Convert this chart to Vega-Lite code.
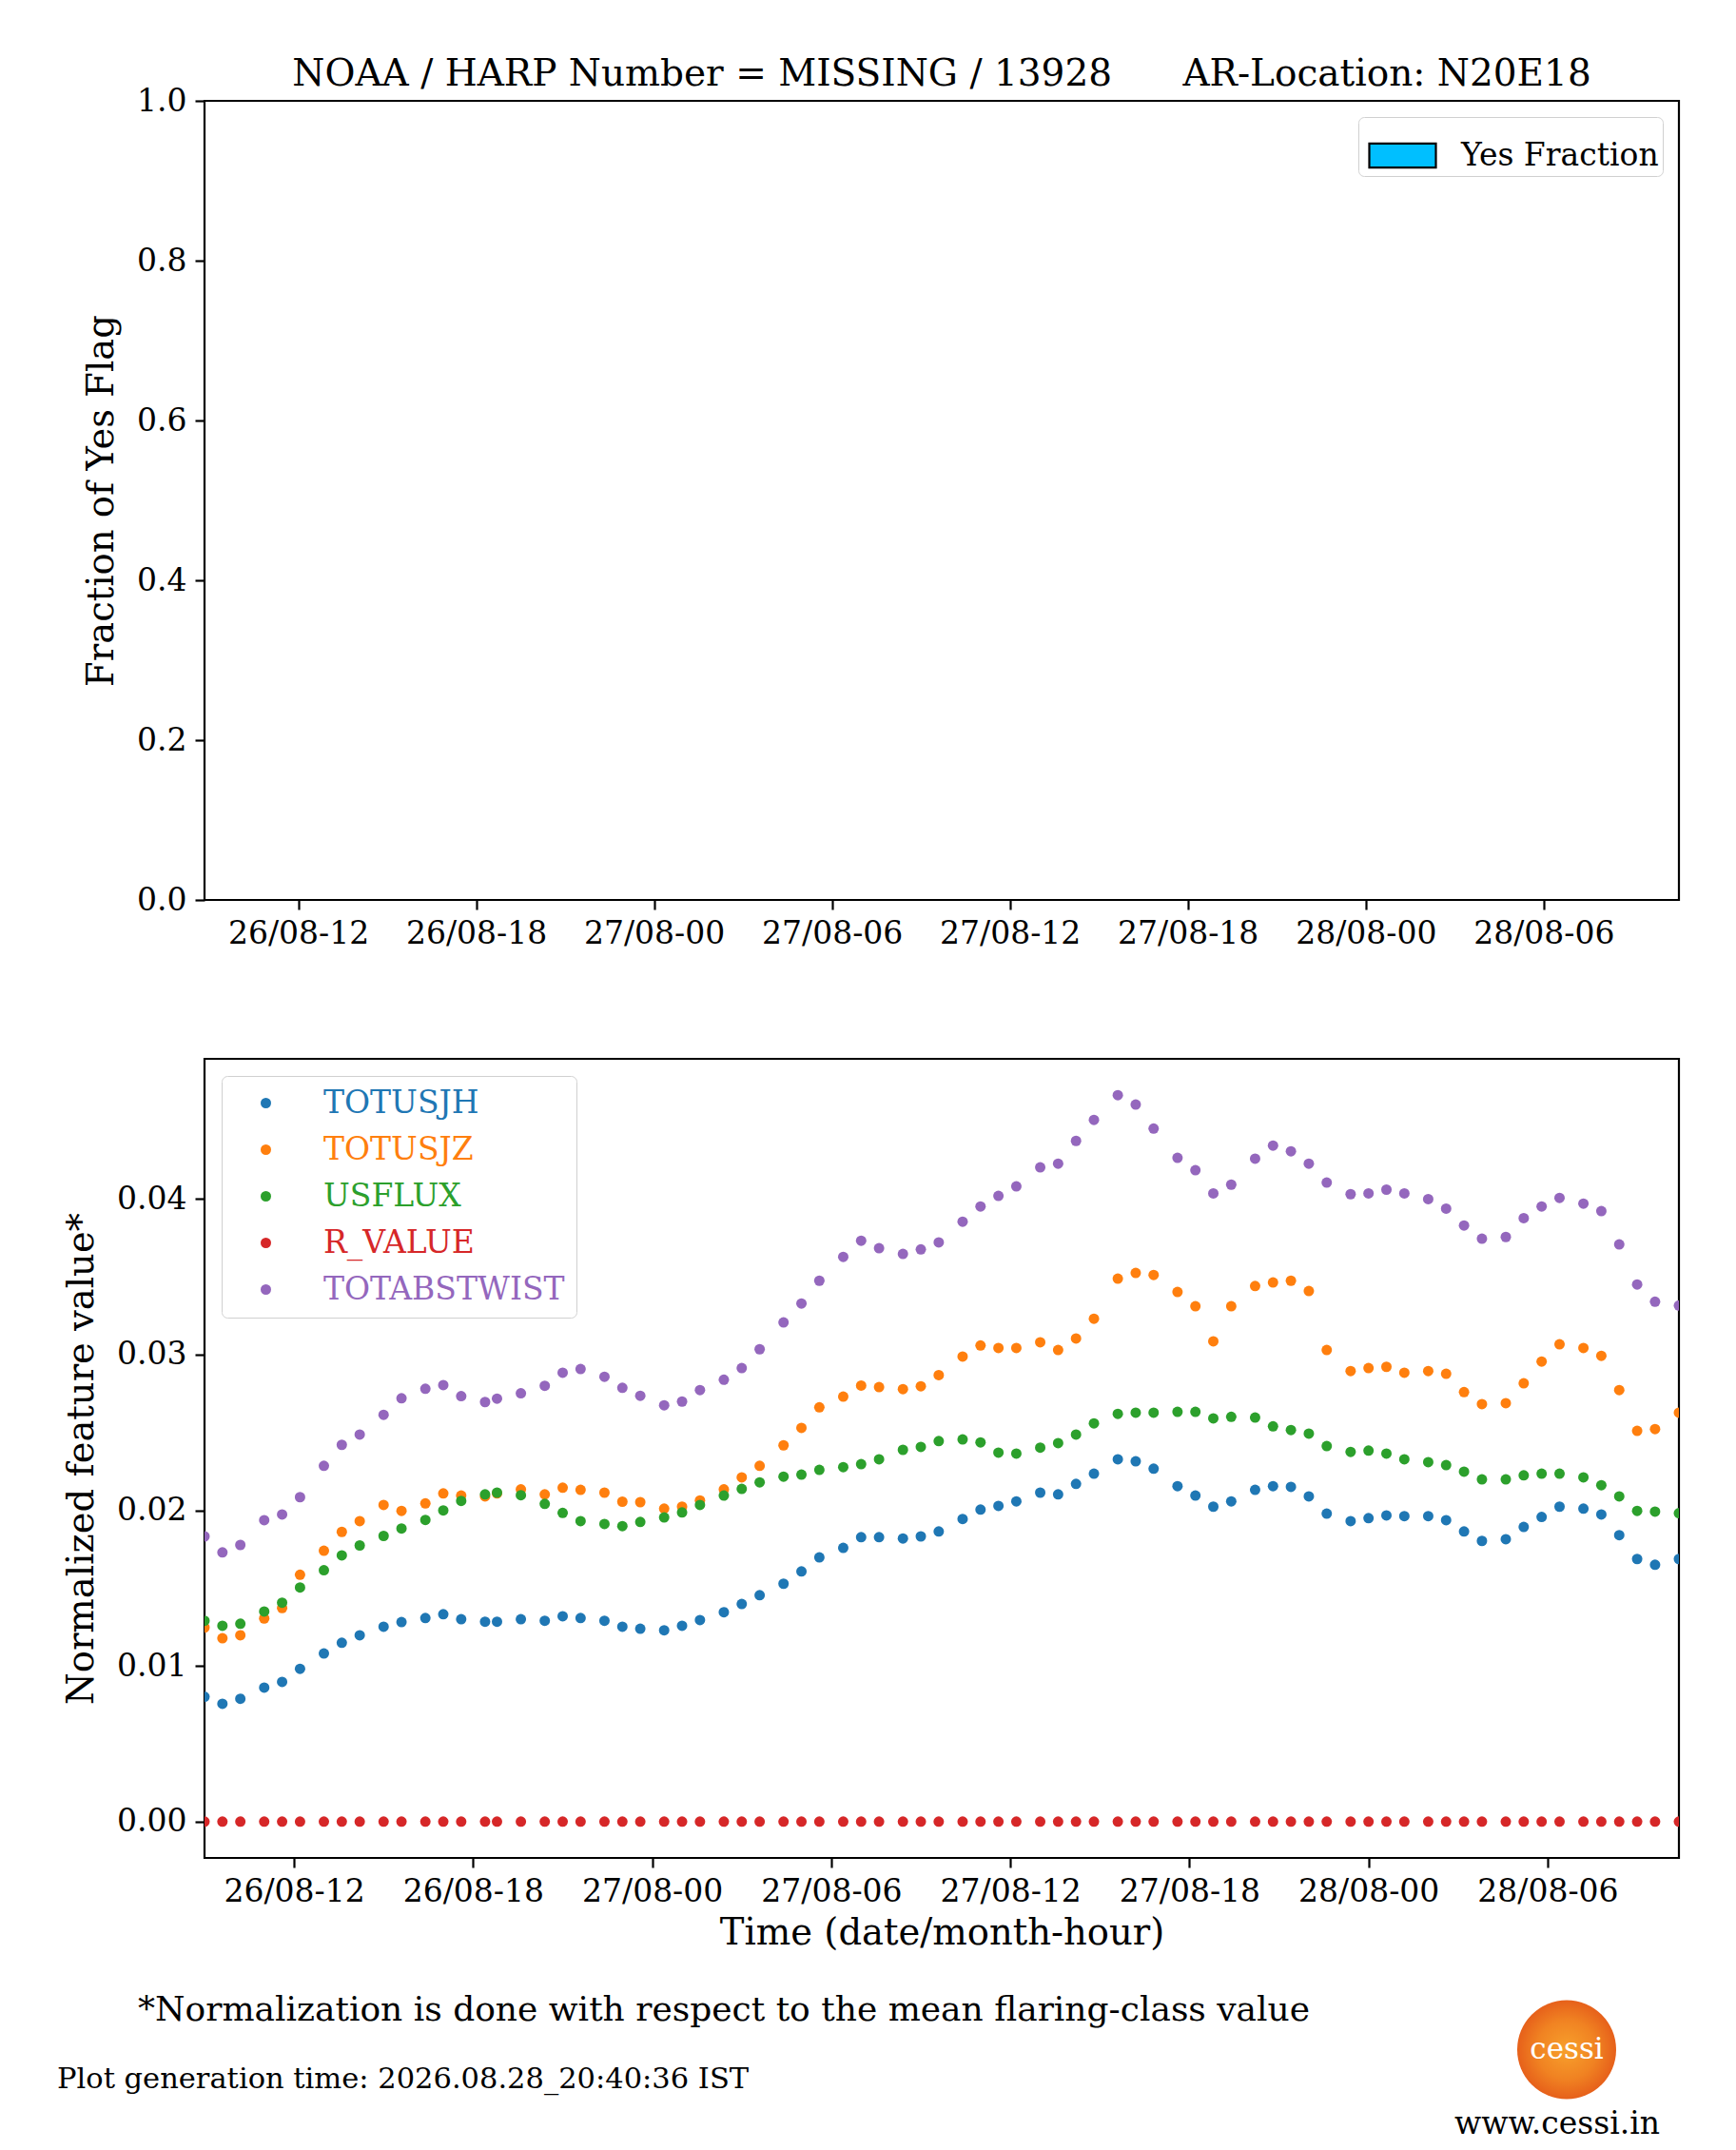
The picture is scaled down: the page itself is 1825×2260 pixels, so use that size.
{
"$schema": "https://vega.github.io/schema/vega-lite/v6.json",
"background": "white",
"padding": {"left": 60, "top": 57, "right": 60, "bottom": 0},
"config": {
  "font": "DejaVu Serif",
  "view": {"stroke": "black", "strokeWidth": 2.2},
  "axis": {"domain": false, "grid": false, "ticks": true, "tickColor": "black", "tickWidth": 2.2, "tickSize": 10, "labelFont": "DejaVu Serif", "labelFontSize": 33, "labelColor": "black", "labelPadding": 9, "labelFlush": false, "labelOverlap": false, "titleFont": "DejaVu Serif", "titleFontSize": 38.5, "titleFontWeight": "normal", "titleColor": "black"},
  "title": {"font": "DejaVu Serif", "fontWeight": "normal", "color": "black"},
  "legend": {"labelFont": "DejaVu Serif", "labelFontSize": 33, "labelLimit": 0}
},
"bounds": "flush",
"spacing": 167,
"resolve": {"scale": {"color": "independent", "fill": "independent"}, "legend": {"color": "independent", "fill": "independent"}},
"vconcat": [
{
 "width": 1550, "height": 840,
 "title": {"text": "NOAA / HARP Number = MISSING / 13928\u00a0\u00a0\u00a0\u00a0\u00a0\u00a0AR-Location: N20E18", "fontSize": 39, "offset": -8, "anchor": "middle"},
 "data": {"values": []},
 "mark": {"type": "bar", "stroke": "black", "strokeWidth": 2.2},
 "encoding": {
   "x": {"field": "t", "type": "temporal", "scale": {"domain": [{"year":2026,"month":8,"date":26,"hours":9},{"year":2026,"month":8,"date":28,"hours":10,"minutes":24}], "nice": false},
         "axis": {"title": null, "format": "%d/%m-%H", "values": [{"year":2026,"month":8,"date":26,"hours":12},{"year":2026,"month":8,"date":26,"hours":18},{"year":2026,"month":8,"date":27,"hours":0},{"year":2026,"month":8,"date":27,"hours":6},{"year":2026,"month":8,"date":27,"hours":12},{"year":2026,"month":8,"date":27,"hours":18},{"year":2026,"month":8,"date":28,"hours":0},{"year":2026,"month":8,"date":28,"hours":6}]}},
   "y": {"field": "yes_fraction", "type": "quantitative", "scale": {"domain": [0, 1], "nice": false}, "axis": {"title": "Fraction of Yes Flag", "values": [0, 0.2, 0.4, 0.6, 0.8, 1], "format": ".1f", "titlePadding": 17}},
   "fill": {"field": "label", "type": "nominal", "scale": {"domain": ["Yes Fraction"], "range": ["#00bfff"]},
            "legend": {"title": null, "orient": "top-right", "offset": 17, "symbolType": "M-1,-0.36L1,-0.36L1,0.36L-1,0.36Z", "symbolSize": 4900, "symbolStrokeColor": "black", "symbolStrokeWidth": 2.2, "symbolOpacity": 1, "symbolOffset": 6, "labelOffset": 25, "labelFontSize": 33, "labelColor": "black", "labelExpr": "datum.label + '\u00a0\u00a0'", "padding": 4, "strokeColor": "#d0d0d0", "cornerRadius": 6, "fillColor": "white"}}
 }
},
{
 "width": 1550, "height": 840,
 "title": {"text": "*Normalization is done with respect to the mean flaring-class value", "orient": "bottom", "anchor": "start", "frame": "group", "dx": -70, "offset": 45, "fontSize": 36},
 "data": {"values": [
  {"t":"2026-08-26T09:00","TOTUSJH":0.00802,"TOTUSJZ":0.01247,"USFLUX":0.0129,"R_VALUE":0,"TOTABSTWIST":0.01832},
  {"t":"2026-08-26T09:36","TOTUSJH":0.00757,"TOTUSJZ":0.01178,"USFLUX":0.01258,"R_VALUE":0,"TOTABSTWIST":0.01729},
  {"t":"2026-08-26T10:12","TOTUSJH":0.00789,"TOTUSJZ":0.01197,"USFLUX":0.01271,"R_VALUE":0,"TOTABSTWIST":0.01777},
  {"t":"2026-08-26T11:00","TOTUSJH":0.00861,"TOTUSJZ":0.01305,"USFLUX":0.0135,"R_VALUE":0,"TOTABSTWIST":0.01936},
  {"t":"2026-08-26T11:36","TOTUSJH":0.00898,"TOTUSJZ":0.01372,"USFLUX":0.01406,"R_VALUE":0,"TOTABSTWIST":0.01973},
  {"t":"2026-08-26T12:12","TOTUSJH":0.00982,"TOTUSJZ":0.01586,"USFLUX":0.01504,"R_VALUE":0,"TOTABSTWIST":0.02084},
  {"t":"2026-08-26T13:00","TOTUSJH":0.0108,"TOTUSJZ":0.0174,"USFLUX":0.01615,"R_VALUE":0,"TOTABSTWIST":0.02285},
  {"t":"2026-08-26T13:36","TOTUSJH":0.01149,"TOTUSJZ":0.01861,"USFLUX":0.0171,"R_VALUE":0,"TOTABSTWIST":0.0242},
  {"t":"2026-08-26T14:12","TOTUSJH":0.01197,"TOTUSJZ":0.0193,"USFLUX":0.01774,"R_VALUE":0,"TOTABSTWIST":0.02486},
  {"t":"2026-08-26T15:00","TOTUSJH":0.01252,"TOTUSJZ":0.02034,"USFLUX":0.01835,"R_VALUE":0,"TOTABSTWIST":0.02613},
  {"t":"2026-08-26T15:36","TOTUSJH":0.01282,"TOTUSJZ":0.01996,"USFLUX":0.01883,"R_VALUE":0,"TOTABSTWIST":0.02719},
  {"t":"2026-08-26T16:24","TOTUSJH":0.01308,"TOTUSJZ":0.02044,"USFLUX":0.01938,"R_VALUE":0,"TOTABSTWIST":0.0278},
  {"t":"2026-08-26T17:00","TOTUSJH":0.01332,"TOTUSJZ":0.02108,"USFLUX":0.01999,"R_VALUE":0,"TOTABSTWIST":0.02804},
  {"t":"2026-08-26T17:36","TOTUSJH":0.0130,"TOTUSJZ":0.02094,"USFLUX":0.0206,"R_VALUE":0,"TOTABSTWIST":0.02733},
  {"t":"2026-08-26T18:24","TOTUSJH":0.01284,"TOTUSJZ":0.02089,"USFLUX":0.02102,"R_VALUE":0,"TOTABSTWIST":0.02695},
  {"t":"2026-08-26T18:48","TOTUSJH":0.01284,"TOTUSJZ":0.02108,"USFLUX":0.02113,"R_VALUE":0,"TOTABSTWIST":0.02717},
  {"t":"2026-08-26T19:36","TOTUSJH":0.0130,"TOTUSJZ":0.02134,"USFLUX":0.02097,"R_VALUE":0,"TOTABSTWIST":0.02751},
  {"t":"2026-08-26T20:24","TOTUSJH":0.0129,"TOTUSJZ":0.02102,"USFLUX":0.02041,"R_VALUE":0,"TOTABSTWIST":0.02799},
  {"t":"2026-08-26T21:00","TOTUSJH":0.01319,"TOTUSJZ":0.02145,"USFLUX":0.01983,"R_VALUE":0,"TOTABSTWIST":0.02883},
  {"t":"2026-08-26T21:36","TOTUSJH":0.01308,"TOTUSJZ":0.02131,"USFLUX":0.0193,"R_VALUE":0,"TOTABSTWIST":0.02907},
  {"t":"2026-08-26T22:24","TOTUSJH":0.0129,"TOTUSJZ":0.02113,"USFLUX":0.01912,"R_VALUE":0,"TOTABSTWIST":0.02857},
  {"t":"2026-08-26T23:00","TOTUSJH":0.01252,"TOTUSJZ":0.02055,"USFLUX":0.01898,"R_VALUE":0,"TOTABSTWIST":0.02786},
  {"t":"2026-08-26T23:36","TOTUSJH":0.01239,"TOTUSJZ":0.02052,"USFLUX":0.01925,"R_VALUE":0,"TOTABSTWIST":0.02735},
  {"t":"2026-08-27T00:24","TOTUSJH":0.01229,"TOTUSJZ":0.0201,"USFLUX":0.01954,"R_VALUE":0,"TOTABSTWIST":0.02674},
  {"t":"2026-08-27T01:00","TOTUSJH":0.01258,"TOTUSJZ":0.02023,"USFLUX":0.01986,"R_VALUE":0,"TOTABSTWIST":0.02698},
  {"t":"2026-08-27T01:36","TOTUSJH":0.01295,"TOTUSJZ":0.02063,"USFLUX":0.02034,"R_VALUE":0,"TOTABSTWIST":0.02772},
  {"t":"2026-08-27T02:24","TOTUSJH":0.01345,"TOTUSJZ":0.02134,"USFLUX":0.02094,"R_VALUE":0,"TOTABSTWIST":0.02838},
  {"t":"2026-08-27T03:00","TOTUSJH":0.01398,"TOTUSJZ":0.02211,"USFLUX":0.02137,"R_VALUE":0,"TOTABSTWIST":0.02913},
  {"t":"2026-08-27T03:36","TOTUSJH":0.01454,"TOTUSJZ":0.02285,"USFLUX":0.02179,"R_VALUE":0,"TOTABSTWIST":0.03034},
  {"t":"2026-08-27T04:24","TOTUSJH":0.01528,"TOTUSJZ":0.02417,"USFLUX":0.02216,"R_VALUE":0,"TOTABSTWIST":0.03206},
  {"t":"2026-08-27T05:00","TOTUSJH":0.01607,"TOTUSJZ":0.02529,"USFLUX":0.02229,"R_VALUE":0,"TOTABSTWIST":0.03328},
  {"t":"2026-08-27T05:36","TOTUSJH":0.01697,"TOTUSJZ":0.02661,"USFLUX":0.02259,"R_VALUE":0,"TOTABSTWIST":0.03474},
  {"t":"2026-08-27T06:24","TOTUSJH":0.01758,"TOTUSJZ":0.0273,"USFLUX":0.02277,"R_VALUE":0,"TOTABSTWIST":0.03627},
  {"t":"2026-08-27T07:00","TOTUSJH":0.01827,"TOTUSJZ":0.02801,"USFLUX":0.02296,"R_VALUE":0,"TOTABSTWIST":0.03731},
  {"t":"2026-08-27T07:36","TOTUSJH":0.01827,"TOTUSJZ":0.02791,"USFLUX":0.02327,"R_VALUE":0,"TOTABSTWIST":0.03683},
  {"t":"2026-08-27T08:24","TOTUSJH":0.01819,"TOTUSJZ":0.02778,"USFLUX":0.02388,"R_VALUE":0,"TOTABSTWIST":0.03646},
  {"t":"2026-08-27T09:00","TOTUSJH":0.01832,"TOTUSJZ":0.02796,"USFLUX":0.02407,"R_VALUE":0,"TOTABSTWIST":0.03675},
  {"t":"2026-08-27T09:36","TOTUSJH":0.01864,"TOTUSJZ":0.02868,"USFLUX":0.02444,"R_VALUE":0,"TOTABSTWIST":0.0372},
  {"t":"2026-08-27T10:24","TOTUSJH":0.01944,"TOTUSJZ":0.02987,"USFLUX":0.02455,"R_VALUE":0,"TOTABSTWIST":0.03853},
  {"t":"2026-08-27T11:00","TOTUSJH":0.02004,"TOTUSJZ":0.03058,"USFLUX":0.02436,"R_VALUE":0,"TOTABSTWIST":0.03951},
  {"t":"2026-08-27T11:36","TOTUSJH":0.02028,"TOTUSJZ":0.03042,"USFLUX":0.0237,"R_VALUE":0,"TOTABSTWIST":0.04019},
  {"t":"2026-08-27T12:12","TOTUSJH":0.02057,"TOTUSJZ":0.03042,"USFLUX":0.02364,"R_VALUE":0,"TOTABSTWIST":0.0408},
  {"t":"2026-08-27T13:00","TOTUSJH":0.02113,"TOTUSJZ":0.03079,"USFLUX":0.02402,"R_VALUE":0,"TOTABSTWIST":0.04202},
  {"t":"2026-08-27T13:36","TOTUSJH":0.02102,"TOTUSJZ":0.03029,"USFLUX":0.02431,"R_VALUE":0,"TOTABSTWIST":0.04226},
  {"t":"2026-08-27T14:12","TOTUSJH":0.02169,"TOTUSJZ":0.03103,"USFLUX":0.02486,"R_VALUE":0,"TOTABSTWIST":0.04372},
  {"t":"2026-08-27T14:48","TOTUSJH":0.02235,"TOTUSJZ":0.0323,"USFLUX":0.02558,"R_VALUE":0,"TOTABSTWIST":0.04507},
  {"t":"2026-08-27T15:36","TOTUSJH":0.02327,"TOTUSJZ":0.03487,"USFLUX":0.02619,"R_VALUE":0,"TOTABSTWIST":0.04666},
  {"t":"2026-08-27T16:12","TOTUSJH":0.02314,"TOTUSJZ":0.03524,"USFLUX":0.02627,"R_VALUE":0,"TOTABSTWIST":0.04605},
  {"t":"2026-08-27T16:48","TOTUSJH":0.02267,"TOTUSJZ":0.03511,"USFLUX":0.02627,"R_VALUE":0,"TOTABSTWIST":0.04451},
  {"t":"2026-08-27T17:36","TOTUSJH":0.02155,"TOTUSJZ":0.03402,"USFLUX":0.02632,"R_VALUE":0,"TOTABSTWIST":0.04263},
  {"t":"2026-08-27T18:12","TOTUSJH":0.02094,"TOTUSJZ":0.0331,"USFLUX":0.02632,"R_VALUE":0,"TOTABSTWIST":0.04184},
  {"t":"2026-08-27T18:48","TOTUSJH":0.02023,"TOTUSJZ":0.03085,"USFLUX":0.0259,"R_VALUE":0,"TOTABSTWIST":0.04035},
  {"t":"2026-08-27T19:24","TOTUSJH":0.02057,"TOTUSJZ":0.0331,"USFLUX":0.026,"R_VALUE":0,"TOTABSTWIST":0.04091},
  {"t":"2026-08-27T20:12","TOTUSJH":0.02131,"TOTUSJZ":0.0344,"USFLUX":0.02595,"R_VALUE":0,"TOTABSTWIST":0.04258},
  {"t":"2026-08-27T20:48","TOTUSJH":0.02155,"TOTUSJZ":0.03463,"USFLUX":0.02539,"R_VALUE":0,"TOTABSTWIST":0.04342},
  {"t":"2026-08-27T21:24","TOTUSJH":0.0215,"TOTUSJZ":0.03474,"USFLUX":0.02515,"R_VALUE":0,"TOTABSTWIST":0.04305},
  {"t":"2026-08-27T22:00","TOTUSJH":0.02089,"TOTUSJZ":0.03408,"USFLUX":0.02492,"R_VALUE":0,"TOTABSTWIST":0.04226},
  {"t":"2026-08-27T22:36","TOTUSJH":0.01978,"TOTUSJZ":0.03029,"USFLUX":0.02412,"R_VALUE":0,"TOTABSTWIST":0.04104},
  {"t":"2026-08-27T23:24","TOTUSJH":0.0193,"TOTUSJZ":0.02894,"USFLUX":0.02375,"R_VALUE":0,"TOTABSTWIST":0.0403},
  {"t":"2026-08-28T00:00","TOTUSJH":0.01949,"TOTUSJZ":0.02913,"USFLUX":0.02383,"R_VALUE":0,"TOTABSTWIST":0.04035},
  {"t":"2026-08-28T00:36","TOTUSJH":0.01967,"TOTUSJZ":0.02921,"USFLUX":0.02364,"R_VALUE":0,"TOTABSTWIST":0.04059},
  {"t":"2026-08-28T01:12","TOTUSJH":0.01962,"TOTUSJZ":0.02883,"USFLUX":0.02327,"R_VALUE":0,"TOTABSTWIST":0.04035},
  {"t":"2026-08-28T02:00","TOTUSJH":0.01962,"TOTUSJZ":0.02894,"USFLUX":0.02309,"R_VALUE":0,"TOTABSTWIST":0.03998},
  {"t":"2026-08-28T02:36","TOTUSJH":0.01936,"TOTUSJZ":0.02876,"USFLUX":0.0229,"R_VALUE":0,"TOTABSTWIST":0.03937},
  {"t":"2026-08-28T03:12","TOTUSJH":0.01864,"TOTUSJZ":0.02759,"USFLUX":0.02248,"R_VALUE":0,"TOTABSTWIST":0.03829},
  {"t":"2026-08-28T03:48","TOTUSJH":0.01803,"TOTUSJZ":0.02682,"USFLUX":0.02198,"R_VALUE":0,"TOTABSTWIST":0.03744},
  {"t":"2026-08-28T04:36","TOTUSJH":0.01814,"TOTUSJZ":0.02688,"USFLUX":0.02198,"R_VALUE":0,"TOTABSTWIST":0.03755},
  {"t":"2026-08-28T05:12","TOTUSJH":0.01893,"TOTUSJZ":0.02815,"USFLUX":0.02224,"R_VALUE":0,"TOTABSTWIST":0.03876},
  {"t":"2026-08-28T05:48","TOTUSJH":0.01957,"TOTUSJZ":0.02955,"USFLUX":0.02235,"R_VALUE":0,"TOTABSTWIST":0.03951},
  {"t":"2026-08-28T06:24","TOTUSJH":0.02023,"TOTUSJZ":0.03066,"USFLUX":0.02235,"R_VALUE":0,"TOTABSTWIST":0.04006},
  {"t":"2026-08-28T07:12","TOTUSJH":0.0201,"TOTUSJZ":0.03042,"USFLUX":0.02211,"R_VALUE":0,"TOTABSTWIST":0.03969},
  {"t":"2026-08-28T07:48","TOTUSJH":0.01973,"TOTUSJZ":0.02992,"USFLUX":0.02161,"R_VALUE":0,"TOTABSTWIST":0.03921},
  {"t":"2026-08-28T08:24","TOTUSJH":0.0184,"TOTUSJZ":0.02772,"USFLUX":0.02089,"R_VALUE":0,"TOTABSTWIST":0.03707},
  {"t":"2026-08-28T09:00","TOTUSJH":0.01687,"TOTUSJZ":0.0251,"USFLUX":0.01996,"R_VALUE":0,"TOTABSTWIST":0.0345},
  {"t":"2026-08-28T09:36","TOTUSJH":0.0165,"TOTUSJZ":0.02521,"USFLUX":0.01991,"R_VALUE":0,"TOTABSTWIST":0.03339},
  {"t":"2026-08-28T10:24","TOTUSJH":0.01687,"TOTUSJZ":0.02627,"USFLUX":0.01981,"R_VALUE":0,"TOTABSTWIST":0.03315}
 ]},
 "transform": [{"fold": ["TOTUSJH","TOTUSJZ","USFLUX","R_VALUE","TOTABSTWIST"], "as": ["feature","value"]}],
 "mark": {"type": "point", "filled": true, "size": 121, "opacity": 1, "clip": true},
 "encoding": {
   "x": {"field": "t", "type": "temporal", "scale": {"domain": [{"year":2026,"month":8,"date":26,"hours":9},{"year":2026,"month":8,"date":28,"hours":10,"minutes":24}], "nice": false},
         "axis": {"title": "Time (date/month-hour)", "titlePadding": 8, "format": "%d/%m-%H", "values": [{"year":2026,"month":8,"date":26,"hours":12},{"year":2026,"month":8,"date":26,"hours":18},{"year":2026,"month":8,"date":27,"hours":0},{"year":2026,"month":8,"date":27,"hours":6},{"year":2026,"month":8,"date":27,"hours":12},{"year":2026,"month":8,"date":27,"hours":18},{"year":2026,"month":8,"date":28,"hours":0},{"year":2026,"month":8,"date":28,"hours":6}]}},
   "y": {"field": "value", "type": "quantitative", "scale": {"domain": [-0.00233, 0.04899], "nice": false, "zero": false}, "axis": {"title": "Normalized feature value*", "values": [0, 0.01, 0.02, 0.03, 0.04], "format": ".2f", "titlePadding": 17}},
   "color": {"field": "feature", "type": "nominal", "scale": {"domain": ["TOTUSJH","TOTUSJZ","USFLUX","R_VALUE","TOTABSTWIST"], "range": ["#1f77b4","#ff7f0e","#2ca02c","#d62728","#9467bd"]},
             "legend": {"title": null, "orient": "top-left", "offset": 18, "symbolType": "circle", "symbolSize": 121, "symbolStrokeWidth": 0, "symbolOffset": 18, "labelOffset": 44, "labelFontSize": 33, "labelColor": {"expr": "datum.value == 'TOTUSJH' ? '#1f77b4' : datum.value == 'TOTUSJZ' ? '#ff7f0e' : datum.value == 'USFLUX' ? '#2ca02c' : datum.value == 'R_VALUE' ? '#d62728' : '#9467bd'"}, "rowPadding": 15, "padding": 12, "strokeColor": "#d0d0d0", "cornerRadius": 6, "fillColor": "white"}}
 }
},
{
 "hconcat": [
  {"width": 1380, "height": 41, "view": {"stroke": null}, "data": {"values": []}, "mark": "point",
   "title": {"text": "Plot generation time: 2026.08.28_20:40:36 IST", "orient": "bottom", "anchor": "start", "frame": "group", "dx": -155, "offset": 10, "fontSize": 30.5}},
  {"width": 104, "height": 69, "view": {"stroke": null}, "data": {"values": [{"name": "cessi"}]},
   "title": {"text": "www.cessi.in", "orient": "bottom", "anchor": "middle", "frame": "group", "dx": -10, "offset": 10, "fontSize": 33},
   "layer": [
     {"mark": {"type": "point", "shape": "circle", "filled": true, "size": 10816, "opacity": 1, "fill": {"gradient": "radial", "x1": 0.5, "y1": 0.5, "r1": 0, "x2": 0.5, "y2": 0.5, "r2": 0.5, "stops": [{"offset": 0, "color": "#f7a02c"}, {"offset": 0.6, "color": "#f08222"}, {"offset": 1, "color": "#e6601a"}]}}, "encoding": {}},
     {"mark": {"type": "text", "color": "white", "fontSize": 31, "font": "DejaVu Serif"}, "encoding": {"text": {"field": "name", "type": "nominal"}}}
   ]}
 ],
 "spacing": 0,
 "bounds": "flush"
}
]
}
